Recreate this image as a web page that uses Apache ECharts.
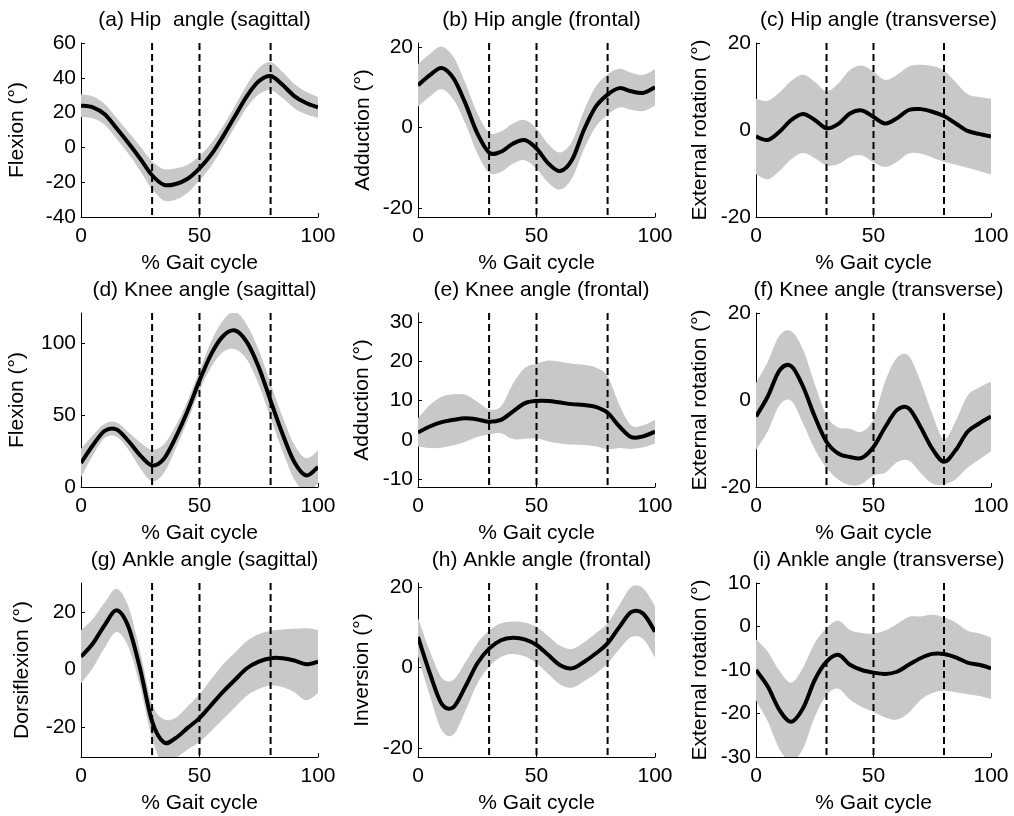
<!DOCTYPE html>
<html>
<head>
<meta charset="utf-8">
<title>Gait angles</title>
<script src="https://cdn.jsdelivr.net/npm/echarts@6/dist/echarts.min.js"></script>
<style>
	html, body { margin: 0; padding: 0; background: #fff; }
	#main { width: 1014px; height: 816px; }
</style>
</head>
<body>
<div id="main"></div>
<script>
// % of gait cycle, sampled every 5%
var gaitPct = [0, 5, 10, 15, 20, 25, 30, 35, 40, 45, 50, 55, 60, 65, 70, 75, 80, 85, 90, 95, 100];
// dashed event lines
var phaseLines = [30, 50, 80];

var titles = [
	'(a) Hip  angle (sagittal)', '(b) Hip angle (frontal)', '(c) Hip angle (transverse)',
	'(d) Knee angle (sagittal)', '(e) Knee angle (frontal)', '(f) Knee angle (transverse)',
	'(g) Ankle angle (sagittal)', '(h) Ankle angle (frontal)', '(i) Ankle angle (transverse)'
];
var yNames = [
	'Flexion (°)', 'Adduction (°)', 'External rotation (°)',
	'Flexion (°)', 'Adduction (°)', 'External rotation (°)',
	'Dorsiflexion (°)', 'Inversion (°)', 'External rotation (°)'
];
var xTicks = [0, 50, 100];
var yTicks = [
	[-40, -20, 0, 20, 40, 60], [-20, 0, 20], [-20, 0, 20],
	[0, 50, 100], [-10, 0, 10, 20, 30], [-20, 0, 20],
	[-20, 0, 20], [-20, 0, 20], [-30, -20, -10, 0, 10]
];
var yMin = [-40, -22.2, -20, 0, -12, -20, -30.4, -22.2, -30];
var yMax = [60, 21, 20, 121, 32.3, 20, 30, 21, 10];

// mean curves and standard deviations
var hipSagMean = [24, 23, 19, 11, 2.5, -6.5, -16, -21.5, -21, -18, -12, -4, 6.5, 18, 29.5, 38, 41, 36, 29.5, 25.5, 23];
var hipSagSd = [6.5, 6.3, 6, 6, 6.2, 7, 8, 9, 9, 8, 7, 6.5, 6, 6, 6.5, 7.5, 8, 7.5, 7, 6.5, 6];
var hipFroMean = [10.5, 13, 14.8, 12.2, 6, -1.4, -6.2, -6, -4, -3.1, -5.2, -8.9, -10.8, -8, -0.6, 5.2, 8.2, 9.8, 9, 8.6, 10];
var hipFroSd = [5.3, 5.3, 5.3, 5.3, 5, 5, 5, 5, 5, 5, 5, 4.8, 4.6, 4.6, 4.8, 5, 5, 4.8, 4.6, 4.5, 4.5];
var hipTraMean = [-1.5, -2.3, -0.4, 2.3, 3.7, 2.3, 0.4, 1.4, 3.8, 4.5, 3, 1.5, 2.7, 4.6, 4.8, 4.2, 3.2, 1.5, -0.2, -0.9, -1.5];
var hipTraSd = [8.7, 9, 9, 9, 9, 8.8, 8.5, 9.3, 10, 10.3, 10.4, 10, 10, 10, 10.2, 10.5, 10.5, 9.5, 8.5, 8.5, 8.7];

var kneeSagMean = [16.7, 29, 39, 40, 32, 22, 15, 19.7, 34.7, 53, 74, 92.6, 105, 108.8, 100.7, 83.3, 60, 37, 17.4, 8, 13.9];
var kneeSagSd = [10, 7, 5, 5, 6, 9, 11, 10, 8, 7, 7, 9, 11, 13, 12, 12, 12, 12, 12, 12, 11.5];
var kneeFroMean = [1.9, 3.4, 4.5, 5.1, 5.5, 5.2, 4.6, 5.1, 7.2, 9.3, 9.9, 9.9, 9.5, 9.1, 8.9, 8.4, 6.9, 3.4, 0.7, 0.9, 2.1];
var kneeFroSd = [3.6, 5.5, 6.5, 6.5, 6, 4.5, 3.2, 3.4, 7, 9, 9.5, 10.3, 10.4, 10.3, 10.2, 10, 9.3, 5.5, 3, 2.8, 3];
var kneeTraMean = [-3.8, 0.8, 6.8, 7.8, 3.1, -3.8, -9.6, -12.3, -13.1, -13.3, -10.8, -6.2, -2.3, -1.9, -6.2, -11.2, -14.2, -11.5, -7.3, -5.4, -3.8];
var kneeTraSd = [7.7, 8, 8, 8, 8.5, 7.5, 6, 6, 6.5, 6, 6.5, 10.5, 12, 12, 10.5, 8, 5.2, 6.7, 8.3, 8.3, 8];

var ankSagMean = [4.4, 9, 15.4, 20.5, 14.8, 0, -18, -25.3, -23.8, -20.3, -16.9, -12.3, -7.7, -3.6, 0.4, 2.7, 3.9, 3.9, 3.1, 1.8, 2.7];
var ankSagSd = [9.2, 8.5, 7.8, 7.5, 7, 6, 6, 8, 7, 7.5, 8.3, 9, 9.5, 9.5, 9.5, 9.5, 9.5, 10, 11, 12.5, 11];
var ankFroMean = [7.6, -1.4, -9, -9.8, -4.7, 1, 4.7, 6.8, 7.4, 7, 5.6, 3.1, 0.6, -0.2, 1.4, 3.5, 6, 10.1, 13.8, 13.4, 8.9];
var ankFroSd = [4.7, 5.5, 6.5, 6.8, 6, 5, 4.5, 4.2, 4, 4.2, 4.5, 4.7, 4.8, 4.8, 4.8, 5, 5, 5.5, 6.2, 6.3, 6.4];
var ankTraMean = [-10, -13.8, -19.2, -21.9, -18.8, -12.3, -8.1, -6.5, -8.8, -10, -10.6, -10.9, -10.4, -8.8, -7.3, -6.3, -6.3, -7.1, -8.3, -8.8, -9.6];
var ankTraSd = [7, 8, 9, 9, 9.3, 8.5, 7.7, 7.8, 8, 8.5, 9, 10, 11, 11, 9.6, 9, 8.4, 8, 7.3, 7.2, 7.1];

var means = [hipSagMean, hipFroMean, hipTraMean, kneeSagMean, kneeFroMean, kneeTraMean, ankSagMean, ankFroMean, ankTraMean];
var sds = [hipSagSd, hipFroSd, hipTraSd, kneeSagSd, kneeFroSd, kneeTraSd, ankSagSd, ankFroSd, ankTraSd];

// layout
var colLeft = [81, 418, 756];
var colWidth = [237, 237, 235];
var rowTop = [43, 313, 583];
var rowHeight = 174;
var yNameGap = [53, 44, 45, 53, 45, 45, 48, 45, 45];
var font = "'Liberation Sans', Arial, sans-serif";

// catmull-rom through pixel points -> svg path commands
function splinePath(pts, start) {
	var d = (start ? 'M' : 'L') + pts[0][0] + ' ' + pts[0][1];
	for (var k = 0; k < pts.length - 1; k++) {
		var p0 = pts[k - 1] || pts[k], p1 = pts[k], p2 = pts[k + 1], p3 = pts[k + 2] || pts[k + 1];
		var c1x = p1[0] + (p2[0] - p0[0]) / 6, c1y = p1[1] + (p2[1] - p0[1]) / 6;
		var c2x = p2[0] - (p3[0] - p1[0]) / 6, c2y = p2[1] - (p3[1] - p1[1]) / 6;
		d += ' C' + c1x + ' ' + c1y + ' ' + c2x + ' ' + c2y + ' ' + p2[0] + ' ' + p2[1];
	}
	return d;
}

function clipRect(cs) {
	return { type: 'rect', shape: { x: cs.x, y: cs.y, width: cs.width, height: cs.height } };
}

var chart = echarts.init(document.getElementById('main'));
var grids = [], xAxes = [], yAxes = [], titleList = [], seriesList = [];

for (var i = 0; i < 9; i++) {
	var r = Math.floor(i / 3), c = i % 3;
	grids.push({ left: colLeft[c], top: rowTop[r], width: colWidth[c], height: rowHeight });
	titleList.push({
		text: titles[i],
		left: colLeft[c] + colWidth[c] / 2,
		top: rowTop[r] - 38,
		textAlign: 'center',
		textStyle: { fontFamily: font, fontSize: 21, fontWeight: 'normal', color: '#000' }
	});
	xAxes.push({
		gridIndex: i, type: 'value', min: 0, max: 100,
		name: '% Gait cycle', nameLocation: 'middle', nameGap: 36,
		nameTextStyle: { fontFamily: font, fontSize: 21, color: '#000' },
		axisLine: { onZero: false, lineStyle: { color: '#000', width: 1 } },
		axisTick: { inside: true, length: 4, customValues: xTicks, lineStyle: { color: '#000' } },
		axisLabel: { customValues: xTicks, margin: 9, fontFamily: font, fontSize: 21, color: '#000' },
		splitLine: { show: false }
	});
	yAxes.push({
		gridIndex: i, type: 'value', min: yMin[i], max: yMax[i],
		name: yNames[i], nameLocation: 'middle', nameGap: yNameGap[i],
		nameTextStyle: { fontFamily: font, fontSize: 21, color: '#000' },
		axisLine: { show: true, onZero: false, lineStyle: { color: '#000', width: 1 } },
		axisTick: { show: true, inside: true, length: 4, customValues: yTicks[i], lineStyle: { color: '#000' } },
		axisLabel: { customValues: yTicks[i], margin: 5, fontFamily: font, fontSize: 21, color: '#000' },
		splitLine: { show: false }
	});

	(function(m, s) {
		var rows = gaitPct.map(function(x, k) { return [x, m[k], m[k] - s[k], m[k] + s[k]]; });

		// grey band, mean +/- sd
		seriesList.push({
			type: 'custom', xAxisIndex: i, yAxisIndex: i, clip: true, silent: true, z: 1,
			data: rows, encode: { x: 0, y: [2, 3] },
			renderItem: function(params, api) {
				if (params.dataIndex !== 0) return;
				var up = rows.map(function(row) { return api.coord([row[0], row[3]]); });
				var lo = rows.map(function(row) { return api.coord([row[0], row[2]]); }).reverse();
				return {
					type: 'path',
					shape: { pathData: splinePath(up, true) + ' ' + splinePath(lo, false) + ' Z' },
					style: { fill: '#c8c8c8', stroke: null },
					clipPath: clipRect(params.coordSys)
				};
			}
		});

		// mean curve
		seriesList.push({
			type: 'custom', xAxisIndex: i, yAxisIndex: i, clip: true, silent: true, z: 4,
			data: rows, encode: { x: 0, y: 1 },
			renderItem: function(params, api) {
				if (params.dataIndex !== 0) return;
				var pts = rows.map(function(row) { return api.coord([row[0], row[1]]); });
				return {
					type: 'path',
					shape: { pathData: splinePath(pts, true) },
					style: { fill: 'none', stroke: '#000', lineWidth: 4, lineJoin: 'round' },
					clipPath: clipRect(params.coordSys)
				};
			}
		});
	})(means[i], sds[i]);

	// dashed vertical lines
	(function(lo, hi) {
		seriesList.push({
			type: 'custom', xAxisIndex: i, yAxisIndex: i, silent: true, z: 3,
			data: phaseLines.map(function(v) { return [v]; }), encode: { x: 0 },
			renderItem: function(params, api) {
				var p1 = api.coord([api.value(0), hi]);
				var p2 = api.coord([api.value(0), lo]);
				return {
					type: 'line',
					shape: { x1: p1[0], y1: p1[1], x2: p2[0], y2: p2[1] },
					style: { stroke: '#000', lineWidth: 2, lineDash: [7, 4] }
				};
			}
		});
	})(yMin[i], yMax[i]);
}

chart.setOption({
	animation: false,
	backgroundColor: '#fff',
	title: titleList,
	grid: grids,
	xAxis: xAxes,
	yAxis: yAxes,
	series: seriesList
});
</script>
</body>
</html>
